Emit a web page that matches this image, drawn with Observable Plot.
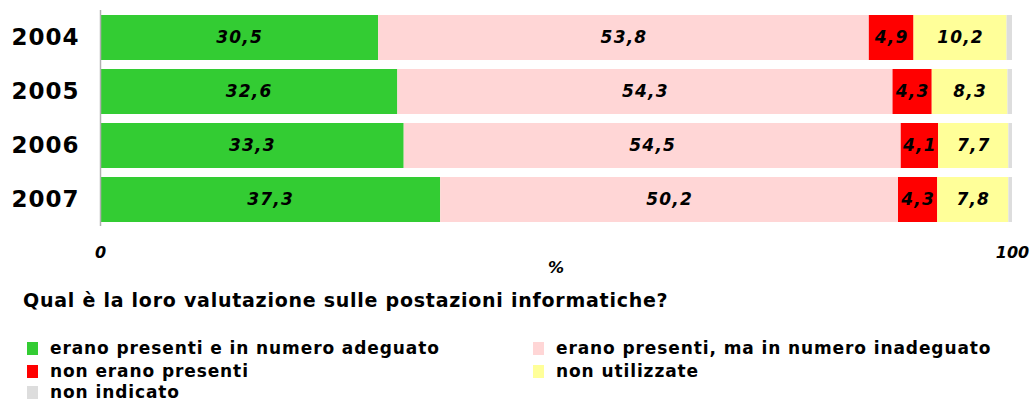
<!DOCTYPE html>
<html><head><meta charset="utf-8">
<script src="https://cdn.jsdelivr.net/npm/d3@7"></script>
<script src="https://cdn.jsdelivr.net/npm/@observablehq/plot@0.6"></script>
<style>
body{margin:0;background:#fff;font-family:"DejaVu Sans",Verdana,sans-serif;}
#wrap{position:relative;width:1034px;height:403px;overflow:hidden;}
#chart{position:absolute;left:0;top:0;}
#title{position:absolute;left:23px;top:289px;font-size:19px;letter-spacing:0.75px;font-weight:bold;color:#000;white-space:nowrap;}
.leg{position:absolute;font-size:17px;letter-spacing:0.9px;font-weight:bold;color:#000;white-space:nowrap;display:flex;align-items:center;height:20px;line-height:20px;}
.sw{display:inline-block;width:11px;height:13px;margin-right:12px;}
</style></head><body>
<div id="wrap"><div id="chart"></div><div id="title"></div><div id="legend"></div></div>
<script>
const years = ["2004", "2005", "2006", "2007"];
const categories = ["erano presenti e in numero adeguato", "erano presenti, ma in numero inadeguato", "non erano presenti", "non utilizzate", "non indicato"];
const colors = ["#33cc33", "#ffd6d6", "#ff0000", "#ffff99", "#dddddd"];
const adeguato = [30.5, 32.6, 33.3, 37.3];
const inadeguato = [53.8, 54.3, 54.5, 50.2];
const nonPresenti = [4.9, 4.3, 4.1, 4.3];
const nonUtilizzate = [10.2, 8.3, 7.7, 7.8];
const nonIndicato = [0.6, 0.5, 0.4, 0.4];
const xTicks = [0, 100];
const titleText = "Qual è la loro valutazione sulle postazioni informatiche?";

const series = [adeguato, inadeguato, nonPresenti, nonUtilizzate, nonIndicato];
const data = [];
years.forEach((y, i) => series.forEach((s, j) => data.push({year: y, cat: categories[j], value: s[i], labeled: j < 4})));
const fmt = v => v.toFixed(1).replace(".", ",");

const chart = Plot.plot({
  width: 1034, height: 280,
  marginLeft: 100, marginRight: 22, marginTop: 10, marginBottom: 54,
  style: {fontFamily: "'DejaVu Sans', Verdana, sans-serif", color: "#000", background: "transparent"},
  x: {domain: [0, 100], axis: null},
  y: {domain: years, paddingInner: 0.1667, paddingOuter: 0.0833, axis: null},
  color: {domain: categories, range: colors},
  marks: [
    Plot.barX(data, Plot.stackX({x: "value", y: "year", fill: "cat", order: null})),
    Plot.ruleX([0], {stroke: "#b0b0b0", strokeWidth: 1.5}),
    Plot.text(data, Plot.stackX({x: "value", y: "year", z: "cat", order: null,
      text: d => d.labeled ? fmt(d.value) : null,
      fontSize: 17, fontWeight: "bold", fontStyle: "italic", fill: "#000"})),
    Plot.axisY({tickSize: 0, tickPadding: 21, fontSize: 23, fontWeight: "bold", label: null}),
    Plot.axisX({ticks: xTicks, tickSize: 0, tickPadding: 20, fontSize: 16, fontWeight: "bold", fontStyle: "italic", label: null}),
    Plot.text(["%"], {frameAnchor: "bottom", dy: 46, fontSize: 16, fontWeight: "bold", fontStyle: "italic", fill: "#000"})
  ]
});
d3.select(chart).selectAll('g[aria-label="text"] text').style("letter-spacing", "1.2px");
d3.select(chart).selectAll('g[aria-label="y-axis tick label"] text').style("letter-spacing", "1px");
document.getElementById("chart").appendChild(chart);
document.getElementById("title").textContent = titleText;

const leg = document.getElementById("legend");
const pos = [[27, 338], [533, 338], [27, 361], [533, 361], [27, 382]];
categories.forEach((c, i) => {
  const el = document.createElement("div");
  el.className = "leg";
  el.style.left = pos[i][0] + "px";
  el.style.top = pos[i][1] + "px";
  const sw = document.createElement("span");
  sw.className = "sw";
  sw.style.background = colors[i];
  el.appendChild(sw);
  el.appendChild(document.createTextNode(c));
  leg.appendChild(el);
});
</script>
</body></html>
